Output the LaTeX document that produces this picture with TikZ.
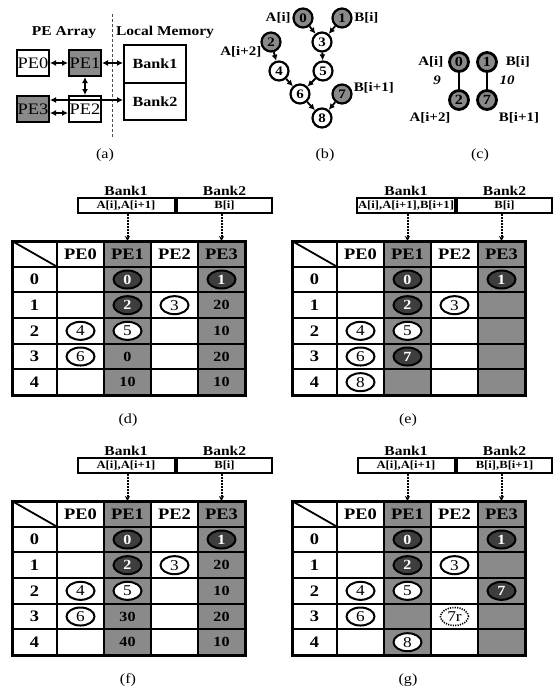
\documentclass[tikz,border=0pt]{standalone}
\usepackage{fontspec}
\setmainfont{Liberation Serif}[FakeStretch=1.15]
\usetikzlibrary{arrows.meta,shapes.geometric,positioning}

\definecolor{pegray}{RGB}{138,138,138}
\definecolor{opdark}{RGB}{62,62,62}

\newcommand{\fsz}[1]{\fontsize{#1}{#1}\selectfont}

% schedule table frame: #1 prefix, #2 Bank1 data, #3 Bank2 data
\newcommand{\petable}[3]{%
    \fill[pegray] (104,241) rectangle (151,395);
    \fill[pegray] (198,241) rectangle (245,395);
    \foreach \gx in {57,104,151,198} \draw[grid line] (\gx,241) -- (\gx,395);
    \foreach \gy in {266.7,292.3,318,343.7,369.3} \draw[grid line] (12,\gy) -- (245,\gy);
    \draw[grid line] (12,241) -- (57,266.7);
    \draw[line width=3pt] (12,241) rectangle (245,395);
    \foreach \k in {0,...,3}
        \node[head text] (#1-h\k) at ({80.5+47*\k},253.8) {PE\k};
    \foreach \r in {0,...,4}
        \node[head text] (#1-r\r) at (34.5,{279.5+25.67*\r}) {\r};
    \node[bank box, minimum width=97pt] (#1-b1) at (126,205.5) {#2};
    \node[bank box, minimum width=95pt] (#1-b2) at (224.5,205.5) {#3};
    \node[bank title, above=0pt of #1-b1] (#1-t1) {Bank1};
    \node[bank title, above=0pt of #1-b2] (#1-t2) {Bank2};
    \coordinate (#1-p1) at (127.5,241);
    \coordinate (#1-p3) at (221.5,241);
    \draw[bank link] (#1-b1.south -| #1-p1) -- (#1-p1);
    \draw[bank link] (#1-b2.south -| #1-p3) -- (#1-p3);
}

% one entry of a table: style, name, PE column, cycle row, text
\newcommand{\pecell}[5]{\node[#1] (#2) at ({80.5+47*#3},{279.5+25.67*#4}) {#5};}

\begin{document}
\begin{tikzpicture}[
    x=1pt, y=-1pt,
    line width=1.5pt,
    % panel (a)
    pe box/.style={draw, line width=2pt, minimum width=32pt, minimum height=26pt, inner sep=0pt, font=\fsz{16}},
    mem box/.style={draw, line width=2pt, minimum width=62pt, inner sep=0pt, font=\bfseries\fsz{14}},
    title text/.style={font=\bfseries\fsz{13.5}},
    pe link/.style={line width=1.8pt, {Latex[length=6pt,width=6pt]}-{Latex[length=6pt,width=6pt]}},
    % panels (b) and (c)
    dfg node/.style={circle, draw, line width=2.2pt, minimum size=19pt, inner sep=0pt, fill=white, font=\bfseries\fsz{13}},
    in node/.style={dfg node, fill=pegray},
    pair node/.style={in node, line width=2.8pt, minimum size=19pt, font=\bfseries\fsz{14}},
    dfg edge/.style={line width=1.8pt, -{Latex[length=6pt,width=6pt]}},
    name text/.style={font=\bfseries\fsz{13}, inner sep=1pt},
    weight text/.style={font=\bfseries\itshape\fsz{13}},
    sub label/.style={font=\fsz{14}},
    % schedule tables
    grid line/.style={line width=1.8pt},
    head text/.style={font=\bfseries\fsz{16}},
    bank box/.style={draw, line width=2pt, minimum height=15pt, inner sep=1pt, font=\bfseries\fsz{11}},
    bank title/.style={font=\bfseries\fsz{13.5}, inner sep=1pt},
    bank link/.style={line width=2pt, dash pattern=on 1.5pt off 1.5pt, -{Stealth[length=5pt,width=5pt]}},
    op dark/.style={ellipse, draw, line width=2pt, fill=opdark, text=white, minimum width=28pt, minimum height=18pt, inner sep=0pt, font=\bfseries\fsz{14}},
    op white/.style={ellipse, draw, line width=2pt, fill=white, minimum width=28pt, minimum height=18pt, inner sep=0pt, font=\fsz{15}},
    op route/.style={op white, line width=1.6pt, dash pattern=on 1.2pt off 1.2pt},
    val text/.style={font=\bfseries\fsz{14}}
]
    \useasboundingbox (0,0) rectangle (558,694);

    % ==========================
    % (a) PE array and local memory
    % ==========================
    \node[title text] (arr) at (64,32) {PE Array};
    \node[title text] (mem) at (165,32) {Local Memory};
    \draw[line width=0.8pt, dash pattern=on 3pt off 2pt, black!70] (112,14) -- (112,138);
    \node[pe box] (pe0) at (33,63) {PE0};
    \node[pe box, fill=pegray] (pe1) at (85,63) {PE1};
    \node[pe box, fill=pegray] (pe3) at (33,109) {PE3};
    \node[pe box] (pe2) at (85,109) {PE2};
    \node[mem box, minimum height=38pt] (bank1) at (155,64) {Bank1};
    \node[mem box, minimum height=37pt, below=-2pt of bank1] (bank2) {Bank2};
    \draw[pe link] (pe0) -- (pe1);
    \draw[pe link] (pe1.east) -- (pe1.east -| bank1.west);
    \draw[pe link] (pe1) -- (pe2);
    \draw[pe link] ([yshift=9pt]pe3.east) coordinate (s3) -- (s3 -| bank2.west);
    \draw[pe link] ([yshift=-4pt]pe3.east) coordinate (t3) -- (t3 -| pe2.west);
    \node[sub label] (cap-a) at (105,155) {(a)};

    % ==========================
    % (b) data flow graph
    % ==========================
    \node[in node] (n0) at (303,18) {0};
    \node[in node] (n1) at (342,18) {1};
    \node[in node] (n2) at (271,42) {2};
    \node[dfg node] (n3) at (322,42) {3};
    \node[dfg node] (n4) at (279,71) {4};
    \node[dfg node] (n5) at (323,71) {5};
    \node[dfg node] (n6) at (300,94) {6};
    \node[in node] (n7) at (342,94) {7};
    \node[dfg node] (n8) at (322,118) {8};
    \foreach \a/\b in {n0/n3, n1/n3, n3/n5, n5/n6, n2/n4, n4/n6, n6/n8, n7/n8}
        \draw[dfg edge] (\a) -- (\b);
    \node[name text, left=0pt of n0] (la0) {A[i]};
    \node[name text, right=0pt of n1] (lb0) {B[i]};
    \node[name text, anchor=east] (la2) at (263,52) {A[i+2]};
    \node[name text, anchor=west] (lb1) at (352,88) {B[i+1]};
    \node[sub label] (cap-b) at (325,155) {(b)};

    % ==========================
    % (c) input pairs
    % ==========================
    \node[pair node] (c0) at (459,62) {0};
    \node[pair node] (c1) at (487,62) {1};
    \node[pair node] (c2) at (459,100) {2};
    \node[pair node] (c7) at (487,100) {7};
    \draw[line width=2.5pt] (c0) -- (c2);
    \draw[line width=2.5pt] (c1) -- (c7);
    \node[name text, anchor=east] (ca0) at (445,62) {A[i]};
    \node[name text, anchor=west] (cb0) at (504,62) {B[i]};
    \node[weight text] (w9) at (437,80) {9};
    \node[weight text] (w10) at (507,80) {10};
    \node[name text] (ca2) at (430,118) {A[i+2]};
    \node[name text] (cb1) at (519,118) {B[i+1]};
    \node[sub label] (cap-c) at (480,155) {(c)};

    % ==========================
    % (d) schedule
    % ==========================
    \begin{scope}
        \petable{d}{A[i],A[i+1]}{B[i]}
        \pecell{op dark}{d-0}{1}{0}{0}
        \pecell{op dark}{d-1}{3}{0}{1}
        \pecell{op dark}{d-2}{1}{1}{2}
        \pecell{op white}{d-3}{2}{1}{3}
        \pecell{op white}{d-4}{0}{2}{4}
        \pecell{op white}{d-5}{1}{2}{5}
        \pecell{op white}{d-6}{0}{3}{6}
        \pecell{val text}{d-v13}{1}{3}{0}
        \pecell{val text}{d-v14}{1}{4}{10}
        \pecell{val text}{d-v31}{3}{1}{20}
        \pecell{val text}{d-v32}{3}{2}{10}
        \pecell{val text}{d-v33}{3}{3}{20}
        \pecell{val text}{d-v34}{3}{4}{10}
        \node[sub label] (cap-d) at (128,420) {(d)};
    \end{scope}

    % ==========================
    % (e) schedule
    % ==========================
    \begin{scope}[shift={(280,0)}]
        \petable{e}{A[i],A[i+1],B[i+1]}{B[i]}
        \pecell{op dark}{e-0}{1}{0}{0}
        \pecell{op dark}{e-1}{3}{0}{1}
        \pecell{op dark}{e-2}{1}{1}{2}
        \pecell{op white}{e-3}{2}{1}{3}
        \pecell{op white}{e-4}{0}{2}{4}
        \pecell{op white}{e-5}{1}{2}{5}
        \pecell{op white}{e-6}{0}{3}{6}
        \pecell{op dark}{e-7}{1}{3}{7}
        \pecell{op white}{e-8}{0}{4}{8}
        \node[sub label] (cap-e) at (128,420) {(e)};
    \end{scope}

    % ==========================
    % (f) schedule
    % ==========================
    \begin{scope}[shift={(0,260)}]
        \petable{f}{A[i],A[i+1]}{B[i]}
        \pecell{op dark}{f-0}{1}{0}{0}
        \pecell{op dark}{f-1}{3}{0}{1}
        \pecell{op dark}{f-2}{1}{1}{2}
        \pecell{op white}{f-3}{2}{1}{3}
        \pecell{op white}{f-4}{0}{2}{4}
        \pecell{op white}{f-5}{1}{2}{5}
        \pecell{op white}{f-6}{0}{3}{6}
        \pecell{val text}{f-v13}{1}{3}{30}
        \pecell{val text}{f-v14}{1}{4}{40}
        \pecell{val text}{f-v31}{3}{1}{20}
        \pecell{val text}{f-v32}{3}{2}{10}
        \pecell{val text}{f-v33}{3}{3}{20}
        \pecell{val text}{f-v34}{3}{4}{10}
        \node[sub label] (cap-f) at (128,420) {(f)};
    \end{scope}

    % ==========================
    % (g) schedule
    % ==========================
    \begin{scope}[shift={(280,260)}]
        \petable{g}{A[i],A[i+1]}{B[i],B[i+1]}
        \pecell{op dark}{g-0}{1}{0}{0}
        \pecell{op dark}{g-1}{3}{0}{1}
        \pecell{op dark}{g-2}{1}{1}{2}
        \pecell{op white}{g-3}{2}{1}{3}
        \pecell{op white}{g-4}{0}{2}{4}
        \pecell{op white}{g-5}{1}{2}{5}
        \pecell{op dark}{g-7}{3}{2}{7}
        \pecell{op white}{g-6}{0}{3}{6}
        \pecell{op route}{g-7r}{2}{3}{7r}
        \pecell{op white}{g-8}{1}{4}{8}
        \node[sub label] (cap-g) at (128,420) {(g)};
    \end{scope}

\end{tikzpicture}
\end{document}
